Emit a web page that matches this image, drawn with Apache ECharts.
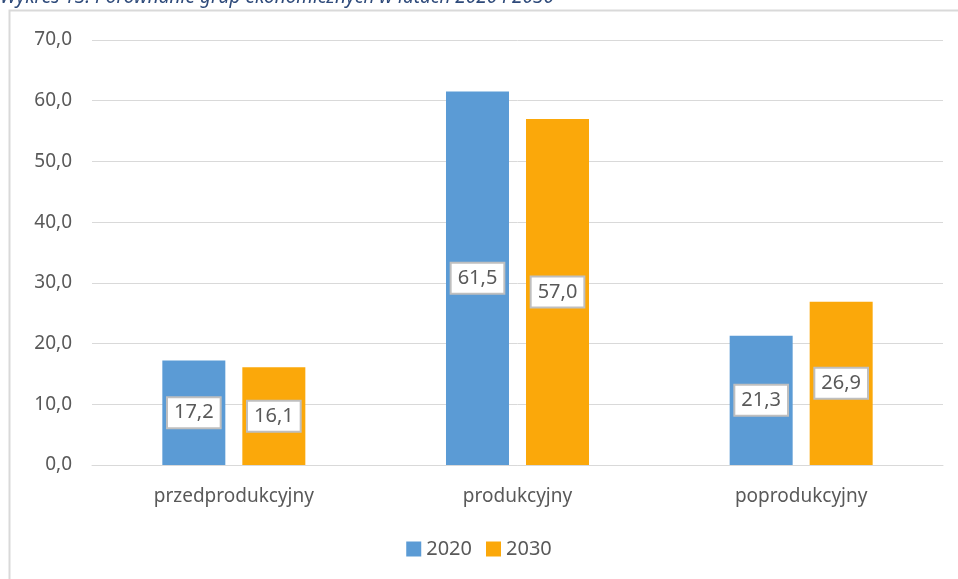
<!DOCTYPE html>
<html>
<head>
<meta charset="utf-8">
<script src="https://cdn.jsdelivr.net/npm/echarts@6/dist/echarts.min.js"></script>
<style>
  html, body { margin: 0; padding: 0; background: #fff; }
  #chart { width: 958px; height: 579px; }
</style>
</head>
<body>
<div id="chart"></div>
<script>
const categories = ['przedprodukcyjny', 'produkcyjny', 'poprodukcyjny']
const values2020 = [17.2, 61.5, 21.3]
const values2030 = [16.1, 57.0, 26.9]
const seriesNames = ['2020', '2030']

const chart = echarts.init(document.getElementById('chart'))

const fmt = v => v.toFixed(1).replace('.', ',')

const labelStyle = {
  show: true,
  position: 'inside',
  formatter: p => fmt(p.value),
  color: '#595959',
  fontSize: 20,
  fontFamily: 'Noto Sans',
  backgroundColor: '#fff',
  borderColor: '#bfbfbf',
  borderWidth: 2,
  padding: [5, 6, 4, 6]
}

const option = {
  animation: false,
  graphic: [
    {
      type: 'rect',
      shape: { x: 9.5, y: 10.5, width: 960, height: 600 },
      style: { fill: 'none', stroke: '#d9d9d9', lineWidth: 2 }
    },
    {
      type: 'text',
      left: 0,
      top: -12,
      style: {
        text: 'Wykres 13. Porównanie grup ekonomicznych w latach 2020 i 2030',
        fill: '#2e4a7a',
        font: 'italic 19px "Noto Sans"'
      }
    }
  ],
  grid: { left: 92, right: 15, top: 40, bottom: 114 },
  legend: {
    bottom: 15,
    left: 'center',
    itemWidth: 15,
    itemHeight: 15,
    itemGap: 14,
    icon: 'rect',
    textStyle: { color: '#595959', fontSize: 20, fontFamily: 'Noto Sans' },
    data: seriesNames
  },
  xAxis: {
    type: 'category',
    data: categories,
    axisLine: { show: true, lineStyle: { color: '#d9d9d9', width: 1 } },
    axisTick: { show: false },
    axisLabel: { color: '#595959', fontSize: 19, fontFamily: 'Noto Sans', margin: 22 }
  },
  yAxis: {
    type: 'value',
    min: 0,
    max: 70,
    interval: 10,
    axisLine: { show: false },
    axisTick: { show: false },
    splitLine: { lineStyle: { color: '#d9d9d9', width: 1 } },
    axisLabel: {
      color: '#595959',
      fontSize: 19,
      fontFamily: 'Noto Sans',
      margin: 20,
      formatter: v => fmt(v)
    }
  },
  series: [
    {
      name: seriesNames[0],
      type: 'bar',
      data: values2020,
      barWidth: 63,
      barGap: '27%',
      itemStyle: { color: '#5b9bd5' },
      label: labelStyle
    },
    {
      name: seriesNames[1],
      type: 'bar',
      data: values2030,
      barWidth: 63,
      itemStyle: { color: '#fba80a' },
      label: labelStyle
    }
  ]
}

chart.setOption(option)
</script>
</body>
</html>
